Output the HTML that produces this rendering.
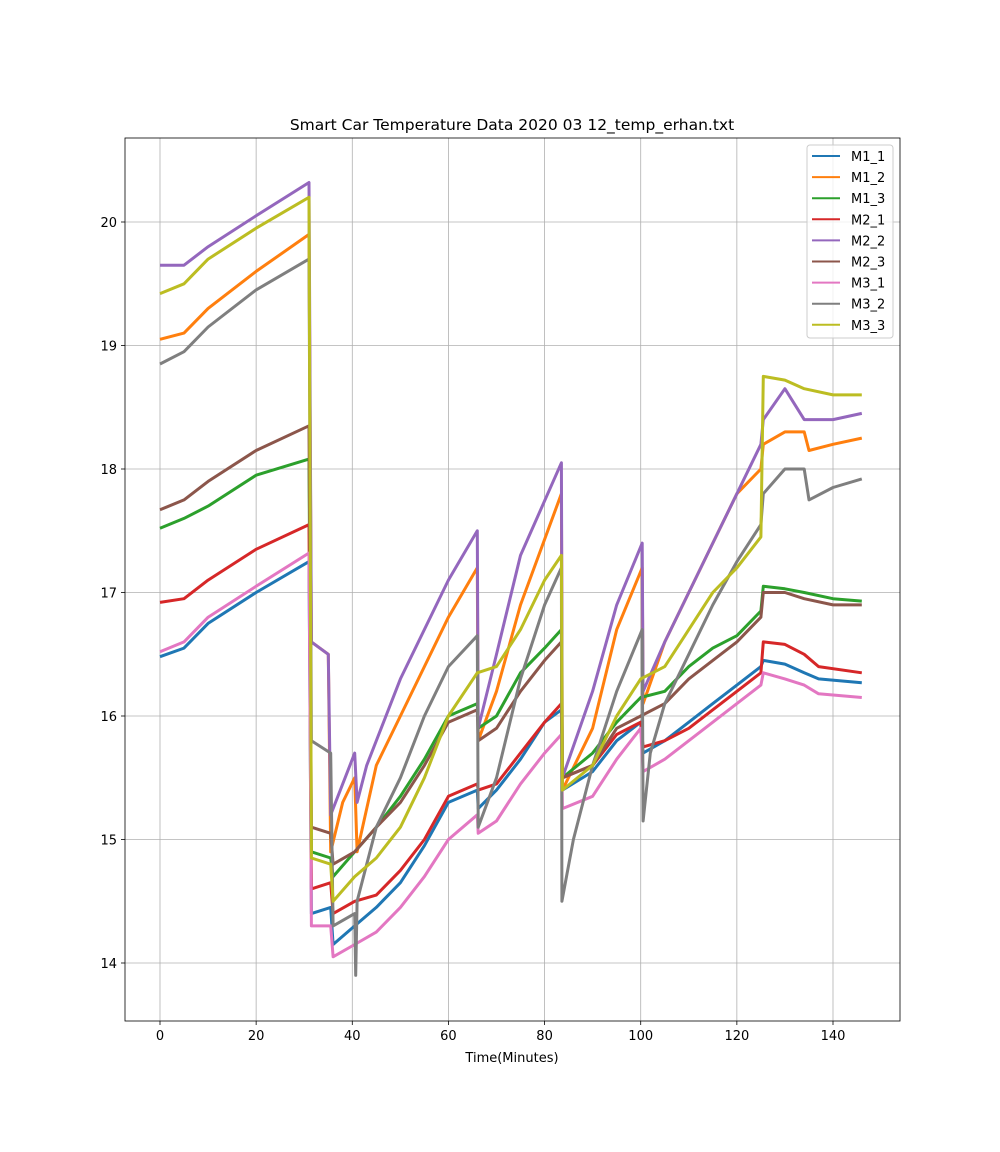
<!DOCTYPE html>
<html><head><meta charset="utf-8"><style>
body{margin:0;background:#fff;font-family:"Liberation Sans","DejaVu Sans",sans-serif}
svg text{font-family:"DejaVu Sans","Liberation Sans",sans-serif}
</style></head><body>
<svg id="chart" width="1000" height="1147" xmlns="http://www.w3.org/2000/svg">
<rect width="1000" height="1147" fill="#fff"/>
<g id="grid"></g><g id="series"></g><g id="axes"></g><g id="legend"></g>
</svg>
<script>
const xTicks=[0,20,40,60,80,100,120,140];
const yTicks=[14,15,16,17,18,19,20];
const seriesNames=["M1_1","M1_2","M1_3","M2_1","M2_2","M2_3","M3_1","M3_2","M3_3"];
const colors=["#1f77b4","#ff7f0e","#2ca02c","#d62728","#9467bd","#8c564b","#e377c2","#7f7f7f","#bcbd22"];
const m1_1T=[0,5,10,20,31,31.5,35.5,36,40.5,45,50,55,60,66,66.2,70,75,80,83.5,83.7,90,95,100,100.5,105,110,115,120,125,125.5,130,134,137,146];
const m1_1V=[16.48,16.55,16.75,17.0,17.25,14.4,14.45,14.15,14.3,14.45,14.65,14.95,15.3,15.4,15.25,15.4,15.65,15.95,16.05,15.4,15.55,15.8,15.95,15.7,15.8,15.95,16.1,16.25,16.4,16.45,16.42,16.35,16.3,16.27];
const m1_2T=[0,5,10,20,31,31.5,35,35.5,38,40.5,41,45,50,60,66,66.2,70,75,83.5,83.7,90,95,100.3,100.5,105,110,115,120,125,125.5,130,134,135,140,146];
const m1_2V=[19.05,19.1,19.3,19.6,19.9,16.6,16.5,14.9,15.3,15.5,14.9,15.6,16.0,16.8,17.2,15.8,16.2,16.9,17.8,15.4,15.9,16.7,17.2,16.1,16.6,17.0,17.4,17.8,18.0,18.2,18.3,18.3,18.15,18.2,18.25];
const m1_3T=[0,5,10,20,31,31.5,35.5,36,40.5,45,50,55,60,66,66.2,70,75,80,83.5,83.7,90,95,100,105,110,115,120,125,125.5,130,134,140,146];
const m1_3V=[17.52,17.6,17.7,17.95,18.08,14.9,14.85,14.7,14.9,15.1,15.35,15.65,16.0,16.1,15.9,16.0,16.35,16.55,16.7,15.5,15.7,15.95,16.15,16.2,16.4,16.55,16.65,16.85,17.05,17.03,17.0,16.95,16.93];
const m2_1T=[0,5,10,20,31,31.5,35.5,36,40.5,45,50,55,60,66,66.2,70,75,80,83.5,83.7,90,95,100,100.5,105,110,115,120,125,125.5,130,134,137,146];
const m2_1V=[16.92,16.95,17.1,17.35,17.55,14.6,14.65,14.4,14.5,14.55,14.75,15.0,15.35,15.45,15.4,15.45,15.7,15.95,16.1,15.5,15.6,15.85,15.95,15.75,15.8,15.9,16.05,16.2,16.35,16.6,16.58,16.5,16.4,16.35];
const m2_2T=[0,5,10,20,31,31.5,35,35.5,40.5,41,43,50,60,66,66.2,70,75,83.5,83.7,90,95,100.3,100.5,105,110,115,120,125,125.5,130,134,140,146];
const m2_2V=[19.65,19.65,19.8,20.05,20.32,16.6,16.5,15.2,15.7,15.3,15.6,16.3,17.1,17.5,15.9,16.5,17.3,18.05,15.5,16.2,16.9,17.4,16.2,16.6,17.0,17.4,17.8,18.2,18.4,18.65,18.4,18.4,18.45];
const m2_3T=[0,5,10,20,31,31.5,35.5,36,40.5,45,50,55,60,66,66.2,70,75,80,83.5,83.7,90,95,100,105,110,115,120,125,125.5,130,134,140,146];
const m2_3V=[17.67,17.75,17.9,18.15,18.35,15.1,15.05,14.8,14.9,15.1,15.3,15.6,15.95,16.05,15.8,15.9,16.2,16.45,16.6,15.5,15.6,15.9,16.0,16.1,16.3,16.45,16.6,16.8,17.0,17.0,16.95,16.9,16.9];
const m3_1T=[0,5,10,20,31,31.5,35.5,36,40.5,45,50,55,60,66,66.2,70,75,80,83.5,83.7,90,95,100,100.5,105,110,115,120,125,125.5,130,134,137,146];
const m3_1V=[16.52,16.6,16.8,17.05,17.32,14.3,14.3,14.05,14.15,14.25,14.45,14.7,15.0,15.2,15.05,15.15,15.45,15.7,15.85,15.25,15.35,15.65,15.9,15.55,15.65,15.8,15.95,16.1,16.25,16.35,16.3,16.25,16.18,16.15];
const m3_2T=[0,5,10,20,31,31.5,35.5,36,40.5,40.7,41,43,45,50,55,60,66,66.2,70,75,80,83.5,83.6,86,90,95,100.3,100.5,102,105,110,115,120,125,125.5,130,134,135,140,146];
const m3_2V=[18.85,18.95,19.15,19.45,19.7,15.8,15.7,14.3,14.4,13.9,14.5,14.8,15.1,15.5,16.0,16.4,16.65,15.1,15.5,16.3,16.9,17.2,14.5,15.0,15.6,16.2,16.7,15.15,15.7,16.1,16.5,16.9,17.25,17.55,17.8,18.0,18.0,17.75,17.85,17.92];
const m3_3T=[0,5,10,20,31,31.5,35.5,36,40.5,45,50,55,60,66,70,75,80,83.5,83.7,90,95,100,105,110,115,120,125,125.5,130,134,140,146];
const m3_3V=[19.42,19.5,19.7,19.95,20.2,14.85,14.8,14.5,14.7,14.85,15.1,15.5,16.0,16.35,16.4,16.7,17.1,17.3,15.4,15.6,16.0,16.3,16.4,16.7,17.0,17.2,17.45,18.75,18.72,18.65,18.6,18.6];
const allT=[m1_1T,m1_2T,m1_3T,m2_1T,m2_2T,m2_3T,m3_1T,m3_2T,m3_3T];
const allV=[m1_1V,m1_2V,m1_3V,m2_1V,m2_2V,m2_3V,m3_1V,m3_2V,m3_3V];

const L=125,R=900,T=138,B=1021;
const xs=v=>160+v*(833-160)/140;
const ys=v=>963-(v-14)*(963-222)/6;
const NS="http://www.w3.org/2000/svg";
function mk(tag,attrs,parent){const e=document.createElementNS(NS,tag);for(const k in attrs)e.setAttribute(k,attrs[k]);parent.appendChild(e);return e;}
const grid=document.getElementById('grid'),axes=document.getElementById('axes'),ser=document.getElementById('series'),leg=document.getElementById('legend');
xTicks.forEach(t=>{const x=xs(t);
 const g=mk('line',{x1:x,x2:x,y1:T,y2:B,stroke:'#b0b0b0','stroke-width':0.8},grid);
 
 
 mk('line',{x1:x,x2:x,y1:B,y2:B+4,stroke:'#000','stroke-width':0.8},axes);
 const tx=mk('text',{x:x,y:B+19,'text-anchor':'middle','font-size':13},axes);tx.textContent=t;
 
 });
yTicks.forEach(t=>{const y=ys(t);
 const g=mk('line',{x1:L,x2:R,y1:y,y2:y,stroke:'#b0b0b0','stroke-width':0.8},grid);
 
 
 mk('line',{x1:L-4,x2:L,y1:y,y2:y,stroke:'#000','stroke-width':0.8},axes);
 const tx=mk('text',{x:L-8,y:y+5,'text-anchor':'end','font-size':13},axes);tx.textContent=t;
 
 });
allT.forEach((ts,i)=>{const d=ts.map((t,j)=>(j?'L':'M')+xs(t).toFixed(1)+','+ys(allV[i][j]).toFixed(1)).join(' ');
 const p=mk('path',{d:d,fill:'none',stroke:colors[i],'stroke-width':3,'stroke-linejoin':'round'},ser);
 
 });
const fr=mk('rect',{x:L,y:T,width:R-L,height:B-T,fill:'none',stroke:'#000','stroke-width':0.8},axes);


const ti=mk('text',{x:512,y:130,'text-anchor':'middle','font-size':15.5},axes);ti.textContent='Smart Car Temperature Data 2020 03 12_temp_erhan.txt';


const xl=mk('text',{x:512,y:1062,'text-anchor':'middle','font-size':13},axes);xl.textContent='Time(Minutes)';


const lb=mk('rect',{x:807,y:145,width:86,height:193,rx:3,fill:'#fff','fill-opacity':0.8,stroke:'#ccc','stroke-width':1},leg);


seriesNames.forEach((n,i)=>{const y=156+i*21.1;
 const ln=mk('line',{x1:812,x2:840,y1:y,y2:y,stroke:colors[i],'stroke-width':2},leg);
 
 
 const tx=mk('text',{x:851,y:y+5,'font-size':13},leg);tx.textContent=n;
 
 });
</script>
</body></html>
